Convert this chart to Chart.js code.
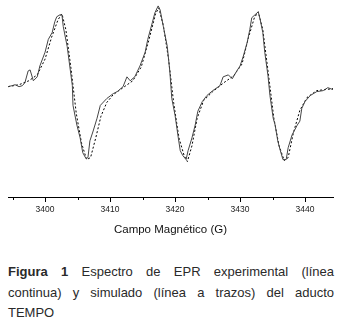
<!DOCTYPE html>
<html>
<head>
<meta charset="utf-8">
<script src="https://cdn.jsdelivr.net/npm/chart.js@4"></script>
<style>
  body { margin: 0; background: #fff; width: 346px; height: 327px; overflow: hidden; }
  #wrap { position: absolute; left: 0; top: 0; width: 346px; height: 240px; }
  #caption { position: absolute; left: 8px; top: 262px; width: 326px; font-family: "Liberation Sans", Arial, sans-serif; font-size: 13px; line-height: 20.5px; color: #2a2a2a; }
  #caption .ln { text-align: justify; text-align-last: justify; }
  #caption .last { text-align: left; text-align-last: left; }
</style>
</head>
<body>
<div id="wrap"><canvas id="myChart" width="346" height="240"></canvas></div>
<div id="caption">
  <div class="ln"><b>Figura 1</b> Espectro de EPR experimental (línea</div>
  <div class="ln">continua) y simulado (línea a trazos) del aducto</div>
  <div class="ln last">TEMPO</div>
</div>
<script>
// campo magnetico (G) y señal, experimental
var expField = [3394.3, 3394.9, 3395.4, 3396.0, 3396.5, 3396.9, 3397.4, 3397.7, 3398.2, 3398.8,
  3399.2, 3400.0, 3400.5, 3401.1, 3401.5, 3401.8, 3402.3, 3402.6, 3402.8, 3403.4,
  3403.8, 3404.2, 3404.3, 3404.9, 3405.4, 3405.8, 3406.3, 3406.6, 3406.9, 3407.4,
  3408.0, 3408.5, 3409.5, 3410.5, 3411.1, 3412.0, 3412.6, 3413.1, 3413.8, 3414.6,
  3415.4, 3415.8, 3416.5, 3416.9, 3417.4, 3417.7, 3418.2, 3418.8, 3419.2, 3419.5,
  3420.0, 3420.5, 3420.8, 3421.2, 3421.7, 3422.0, 3422.6, 3423.1, 3423.5, 3424.2,
  3424.9, 3425.8, 3426.9, 3427.4, 3428.2, 3428.8, 3429.5, 3430.0, 3430.5, 3431.1,
  3431.5, 3431.8, 3432.3, 3432.8, 3433.1, 3433.5, 3433.8, 3434.3, 3434.6, 3435.1,
  3435.4, 3435.8, 3436.2, 3436.6, 3437.1, 3437.4, 3438.0, 3438.8, 3439.2, 3439.5,
  3440.0, 3440.8, 3441.8, 3442.8, 3443.5, 3444.3];
var expSignal = [2, 3, 4, 2, 3, 6, 18, 19, 8, 12,
  23, 37, 50, 57, 68, 73, 75, 75, 63, 43,
  23, 3, -17, -37, -50, -65, -71, -70, -53, -43,
  -30, -17, -10, -5, -3, 2, 12, 8, 12, 23,
  37, 50, 67, 77, 84, 80, 63, 43, 17, -10,
  -27, -50, -63, -68, -72, -63, -50, -37, -23, -13,
  -7, -2, 3, 12, 14, 10, 18, 23, 33, 47,
  60, 72, 75, 78, 70, 57, 37, 13, -7, -30,
  -37, -53, -63, -72, -72, -60, -47, -37, -33, -20,
  -13, -7, -3, -2, 1, -1];

// simulado
var simField = [3394.3, 3396.0, 3397.5, 3398.8, 3400.0, 3401.0, 3402.0, 3402.6, 3403.2, 3404.0,
  3404.8, 3405.6, 3406.4, 3407.0, 3407.8, 3408.6, 3409.5, 3410.5, 3412.0, 3413.5,
  3414.8, 3416.0, 3417.0, 3417.5, 3418.2, 3419.0, 3419.8, 3420.6, 3421.4, 3421.9,
  3422.6, 3423.4, 3424.4, 3425.8, 3427.5, 3429.0, 3430.3, 3431.3, 3432.2, 3432.8,
  3433.5, 3434.3, 3435.2, 3436.0, 3436.8, 3437.4, 3438.2, 3439.2, 3440.3, 3441.8, 3444.3];
var simSignal = [2, 4, 8, 14, 30, 52, 70, 76, 60, 20,
  -25, -55, -72, -70, -50, -28, -14, -6, 1, 8,
  22, 50, 76, 82, 64, 30, -15, -50, -68, -74,
  -58, -30, -12, -3, 6, 13, 25, 52, 72, 78,
  60, 18, -30, -58, -73, -70, -45, -22, -9, -2, 0];

var majorTicks = [3400, 3410, 3420, 3430, 3440];
var minorTicks = [3395, 3405, 3415, 3425, 3435];

function toPoints(xs, ys) {
  return xs.map(function (x, i) { return { x: x, y: ys[i] }; });
}

// marcas menores del eje, sin etiqueta
var minorTickPlugin = {
  id: 'minorTicks',
  afterDraw: function (chart) {
    var sc = chart.scales.x;
    var c = chart.ctx;
    c.save();
    c.strokeStyle = '#000';
    c.lineWidth = 1;
    minorTicks.forEach(function (v) {
      var px = Math.round(sc.getPixelForValue(v)) + 0.5;
      c.beginPath();
      c.moveTo(px, sc.top);
      c.lineTo(px, sc.top + 3);
      c.stroke();
    });
    c.restore();
  }
};

const ctx = document.getElementById('myChart').getContext('2d');
const myChart = new Chart(ctx, {
  type: 'line',
  data: {
    datasets: [{
      label: 'experimental',
      data: toPoints(expField, expSignal),
      borderColor: '#454545',
      borderWidth: 1,
      pointRadius: 0,
      tension: 0
    }, {
      label: 'simulado',
      data: toPoints(simField, simSignal),
      borderColor: '#000',
      borderWidth: 1,
      borderDash: [2, 2],
      pointRadius: 0,
      tension: 0
    }]
  },
  options: {
    responsive: false,
    animation: false,
    layout: { padding: { left: 8, right: 13, top: 0, bottom: 0 } },
    plugins: { legend: { display: false }, tooltip: { enabled: false } },
    scales: {
      x: {
        type: 'linear',
        min: 3394.3,
        max: 3444.3,
        afterBuildTicks: function (axis) {
          axis.ticks = majorTicks.map(function (v) { return { value: v }; });
        },
        grid: { drawOnChartArea: false, tickLength: 5, color: '#000' },
        border: { color: '#000', width: 1 },
        ticks: {
          color: '#222',
          padding: 3,
          maxRotation: 0,
          font: { family: 'Liberation Sans', size: 8.5 },
          callback: function (v) { return String(v); }
        },
        title: {
          display: true,
          text: 'Campo Magnético (G)',
          color: '#111',
          padding: { top: 5, bottom: 3 },
          font: { family: 'Liberation Sans', size: 11.5 }
        }
      },
      y: {
        display: false,
        min: -110,
        max: 90
      }
    }
  },
  plugins: [minorTickPlugin]
});
</script>
</body>
</html>
